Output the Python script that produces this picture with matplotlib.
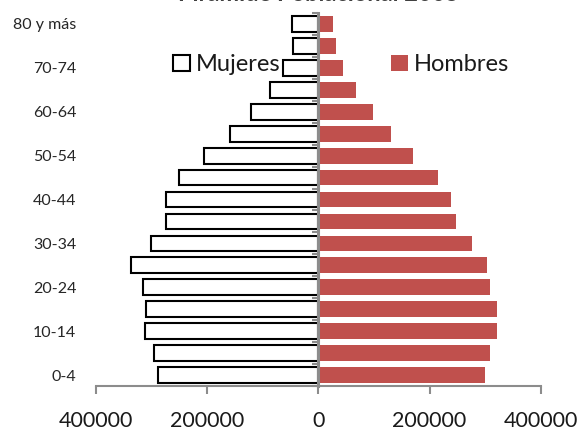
import matplotlib
matplotlib.use("Agg")
import matplotlib.pyplot as plt
from matplotlib.patches import Patch

plt.rcParams['font.family'] = ['Lato', 'DejaVu Sans']

groups = ["0-4", "5-9", "10-14", "15-19", "20-24", "25-29", "30-34", "35-39",
          "40-44", "45-49", "50-54", "55-59", "60-64", "65-69", "70-74",
          "75-79", "80 y más"]
mujeres = [288000, 296000, 312000, 310000, 316000, 337000, 300000, 274000,
           274000, 250000, 206000, 158000, 121000, 86000, 64000, 46000, 48000]
hombres = [300000, 309000, 322000, 322000, 309000, 304000, 277000, 248000,
           239000, 216000, 171000, 130000, 98000, 67000, 44000, 31000, 26000]
xticks = [-400000, -200000, 0, 200000, 400000]
xticklabels = ["400000", "200000", "0", "200000", "400000"]
title = "Pirámide Poblacional 2005"

fig = plt.figure(figsize=(5.84, 4.30), dpi=100)
ax = fig.add_axes([0.164, 0.102, 0.762, 0.868])

y = list(range(len(groups)))
ax.barh(y, [-v for v in mujeres], height=0.72, color='white',
        edgecolor='black', linewidth=1.5, label='Mujeres', zorder=2)
ax.barh(y, hombres, height=0.72, color='#C0504D', edgecolor='none',
        label='Hombres', zorder=2)

ax.set_xlim(-400000, 400000)
ax.set_ylim(-0.5, len(groups) - 0.5)

for s in ['top', 'right', 'left']:
    ax.spines[s].set_visible(False)
ax.spines['bottom'].set_color('#8c8c8c')
ax.spines['bottom'].set_linewidth(1.5)

ax.set_xticks(xticks)
ax.set_xticklabels(xticklabels, fontsize=15.5, color='#1a1a1a')
ax.tick_params(axis='x', direction='out', length=6, width=1.5,
               color='#8c8c8c', pad=12)

ax.set_yticks(y[::2])
ax.set_yticklabels(groups[::2], fontsize=11.5, color='#262626')
ax.tick_params(axis='y', length=0, pad=14)

# vertical category axis at x=0
sec = ax.secondary_yaxis(0.5)
sec.set_alignment('left')
sec.set_zorder(3)
sec.spines['left'].set_color('#8c8c8c')
sec.spines['left'].set_linewidth(2.2)
sec.set_yticks([i - 0.5 for i in range(len(groups) + 1)])
sec.set_yticklabels([])
sec.tick_params(axis='y', direction='out', length=4, width=1.5, color='#8c8c8c')

handles = [Patch(facecolor='white', edgecolor='black', linewidth=1.5, label='Mujeres'),
           Patch(facecolor='#C0504D', edgecolor='none', label='Hombres')]
fig.legend(handles=handles, loc='center', bbox_to_anchor=(0.584, 0.849),
           ncol=2, frameon=False, fontsize=17, handlelength=0.7,
           handleheight=0.7, handletextpad=0.25, columnspacing=4.7,
           labelcolor='#1a1a1a')

fig.text(0.545, 0.998, title, ha='center', va='baseline', fontsize=17,
         fontweight='bold', color='#404040')

fig.savefig('out.png', dpi=100)
